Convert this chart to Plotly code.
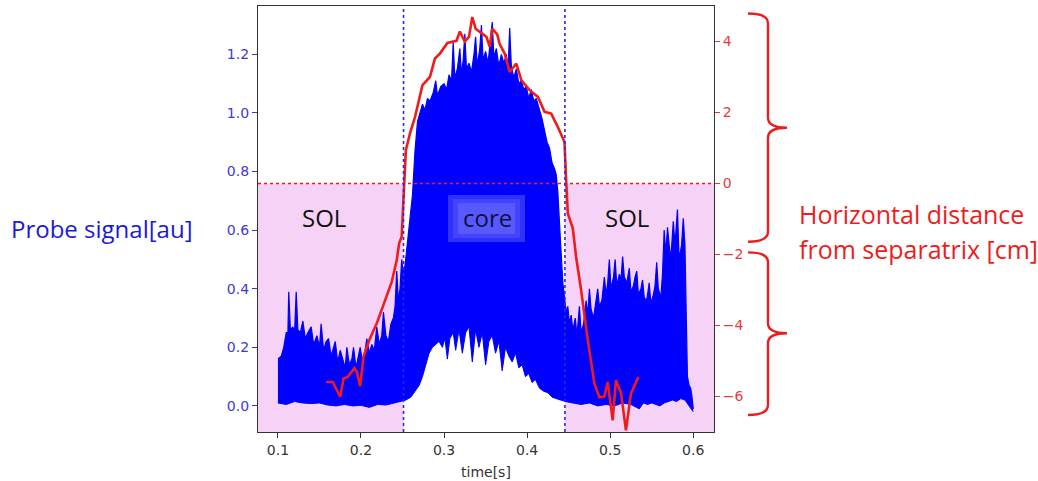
import plotly.graph_objects as go

# ---- data ----
t_upper = [0.100,0.104,0.107,0.110,0.112,0.113,0.115,0.118,0.120,0.122,0.124,0.127,0.130,0.133,0.136,0.140,0.143,0.147,0.150,0.152,
           0.155,0.158,0.161,0.164,0.167,0.169,0.172,0.175,0.178,0.181,0.183,0.186,0.189,0.191,0.194,0.197,0.199,0.202,0.205,0.207,
           0.210,0.213,0.216,0.219,0.222,0.225,0.227,0.230,0.233,0.236,0.239,0.241,0.243,0.245,0.247,0.249,0.251,0.253,0.256,0.259,
           0.262,0.265,0.268,0.271,0.274,0.277,0.280,0.283,0.287,0.290,0.292,0.296,0.300,0.303,0.306,0.309,0.311,0.313,0.316,0.319,
           0.321,0.323,0.325,0.327,0.330,0.333,0.336,0.338,0.340,0.343,0.345,0.347,0.350,0.353,0.356,0.358,0.360,0.363,0.366,0.369,
           0.372,0.375,0.377,0.379,0.381,0.384,0.387,0.390,0.393,0.396,0.399,0.402,0.405,0.408,0.411,0.415,0.418,0.421,0.424,0.427,
           0.430,0.433,0.435,0.437,0.439,0.441,0.443,0.445,0.447,0.449,0.451,0.453,0.455,0.458,0.460,0.463,0.465,0.468,0.471,0.473,
           0.475,0.477,0.480,0.483,0.485,0.487,0.490,0.493,0.495,0.497,0.499,0.501,0.504,0.506,0.508,0.511,0.513,0.515,0.517,0.520,
           0.523,0.525,0.528,0.530,0.532,0.534,0.537,0.539,0.541,0.544,0.547,0.549,0.552,0.554,0.556,0.558,0.561,0.563,0.565,0.567,
           0.569,0.571,0.573,0.576,0.578,0.581,0.583,0.586,0.588,0.590,0.592,0.593,0.595,0.597,0.599,0.600]
sig_upper = [0.16,0.17,0.20,0.25,0.25,0.39,0.26,0.27,0.25,0.39,0.26,0.25,0.29,0.23,0.25,0.27,0.21,0.24,0.20,0.28,
             0.19,0.22,0.23,0.17,0.20,0.22,0.15,0.19,0.16,0.13,0.20,0.14,0.16,0.20,0.13,0.18,0.20,0.15,0.19,0.23,
             0.18,0.21,0.19,0.27,0.21,0.24,0.32,0.24,0.22,0.28,0.30,0.34,0.46,0.36,0.40,0.50,0.45,0.48,0.55,0.64,
             0.72,0.87,0.97,1.00,1.03,1.01,1.05,1.04,1.07,1.11,1.06,1.09,1.10,1.08,1.13,1.11,1.24,1.12,1.15,1.22,
             1.13,1.18,1.27,1.15,1.17,1.14,1.20,1.26,1.16,1.22,1.30,1.18,1.21,1.17,1.25,1.31,1.19,1.22,1.16,1.20,
             1.17,1.20,1.14,1.29,1.16,1.12,1.15,1.10,1.11,1.08,1.09,1.05,1.08,1.04,1.05,1.01,0.98,0.94,0.90,0.88,
             0.83,0.81,0.79,0.73,0.60,0.52,0.42,0.36,0.32,0.34,0.28,0.31,0.26,0.30,0.24,0.34,0.25,0.28,0.36,0.31,
             0.40,0.33,0.30,0.36,0.40,0.34,0.36,0.44,0.38,0.42,0.50,0.40,0.44,0.50,0.41,0.45,0.43,0.51,0.44,0.42,
             0.47,0.39,0.41,0.44,0.46,0.38,0.40,0.43,0.37,0.36,0.42,0.35,0.38,0.41,0.49,0.40,0.37,0.45,0.60,0.52,
             0.61,0.55,0.50,0.63,0.55,0.67,0.50,0.55,0.64,0.55,0.30,0.10,0.07,0.06,0.02,-0.01]

t_lower = [0.100,0.110,0.120,0.130,0.140,0.150,0.160,0.170,0.180,0.190,0.200,0.210,0.220,0.230,0.240,0.248,0.254,0.260,0.265,0.270,
           0.274,0.278,0.282,0.286,0.290,0.294,0.298,0.301,0.304,0.307,0.311,0.314,0.318,0.322,0.326,0.330,0.334,0.338,0.342,0.346,
           0.350,0.354,0.358,0.362,0.366,0.370,0.374,0.378,0.382,0.386,0.390,0.394,0.398,0.402,0.406,0.410,0.415,0.420,0.425,0.430,
           0.435,0.440,0.446,0.455,0.465,0.475,0.485,0.495,0.505,0.515,0.525,0.535,0.540,0.545,0.550,0.555,0.560,0.565,0.570,0.575,
           0.580,0.585,0.590,0.595,0.600]
sig_lower = [0.010,0.005,0.015,0.010,0.008,0.010,0.003,0.000,0.005,0.000,0.002,-0.005,0.005,0.003,0.010,0.015,0.020,0.030,0.050,0.070,
             0.100,0.140,0.180,0.200,0.210,0.220,0.200,0.230,0.160,0.230,0.250,0.190,0.260,0.180,0.250,0.270,0.150,0.260,0.200,0.250,
             0.140,0.220,0.240,0.180,0.220,0.120,0.200,0.170,0.150,0.180,0.130,0.140,0.100,0.110,0.080,0.090,0.060,0.050,0.045,0.030,
             0.025,0.020,0.015,0.010,0.005,0.010,0.000,0.005,0.000,0.010,0.005,-0.010,0.010,0.005,0.010,0.005,0.000,0.010,0.015,0.020,
             0.015,0.025,0.020,0.000,-0.020]

t_dist = [0.158,0.166,0.175,0.179,0.184,0.192,0.195,0.199,0.203,0.210,0.219,0.229,0.237,0.243,0.246,0.249,0.251,0.253,0.254,0.259,
          0.265,0.274,0.283,0.289,0.295,0.304,0.315,0.319,0.325,0.330,0.334,0.338,0.343,0.351,0.355,0.358,0.364,0.367,0.373,0.379,
          0.387,0.393,0.403,0.413,0.421,0.429,0.437,0.445,0.447,0.449,0.455,0.459,0.465,0.473,0.481,0.487,0.493,0.497,0.503,0.507,
          0.513,0.519,0.525,0.534]
dist_cm = [-5.59,-5.59,-6.01,-5.49,-5.45,-5.20,-5.30,-5.71,-4.88,-4.41,-3.94,-3.29,-2.77,-2.16,-1.68,-1.50,-0.56,0.40,0.94,1.41,
           1.87,2.77,3.00,3.52,3.66,3.96,4.02,4.28,4.00,4.13,4.69,4.36,4.27,4.13,3.85,4.36,4.20,3.93,3.66,3.14,
           3.38,2.91,2.63,2.44,2.02,1.97,1.59,1.17,0.10,-0.84,-1.26,-2.07,-3.00,-4.40,-5.63,-6.02,-6.00,-5.59,-6.67,-5.54,
           -5.90,-6.95,-5.92,-5.45]

core_bounds = [0.2512, 0.4455]
x_ticks = [0.1, 0.2, 0.3, 0.4, 0.5, 0.6]
y_ticks = [0.0, 0.2, 0.4, 0.6, 0.8, 1.0, 1.2]
y2_ticks = [-6, -4, -2, 0, 2, 4]
x_range = [0.076, 0.625]
y_range = [-0.089, 1.365]
y2_range = [-7.0, 5.0]

BLUE = "#0000ff"
RED = "#ee1c1c"
PINK = "#f7d2f7"
TICK_BLUE = "#3a3ad8"
TICK_RED = "#e83a3a"
FONT = "DejaVu Sans"
LABEL_FONT = "Open Sans"

fig = go.Figure()

# probe signal band (between lower and upper envelope)
fig.add_trace(go.Scatter(x=t_lower, y=sig_lower, mode="lines",
                         line=dict(color=BLUE, width=1), showlegend=False, hoverinfo="skip"))
fig.add_trace(go.Scatter(x=t_upper, y=sig_upper, mode="lines", fill="tonexty",
                         fillcolor=BLUE, line=dict(color=BLUE, width=1.2),
                         showlegend=False, hoverinfo="skip"))

# distance from separatrix (right axis)
fig.add_trace(go.Scatter(x=t_dist, y=dist_cm, mode="lines", yaxis="y2",
                         line=dict(color=RED, width=2.6), showlegend=False, hoverinfo="skip"))


def px(xp):
    return (xp - 258) / 456


def py(yp):
    return (432 - yp) / 426


shapes = []
# pink SOL shading (below separatrix line, outside core)
shapes.append(dict(type="rect", xref="x", yref="y2", x0=x_range[0], x1=core_bounds[0],
                   y0=y2_range[0], y1=0, fillcolor=PINK, line=dict(width=0), layer="below"))
shapes.append(dict(type="rect", xref="x", yref="y2", x0=core_bounds[1], x1=x_range[1],
                   y0=y2_range[0], y1=0, fillcolor=PINK, line=dict(width=0), layer="below"))
# separatrix dotted line
shapes.append(dict(type="line", xref="paper", yref="y2", x0=0, x1=1, y0=0, y1=0,
                   line=dict(color=RED, width=1.6, dash="dot")))
# core boundaries
for xb in core_bounds:
    shapes.append(dict(type="line", xref="x", yref="paper", x0=xb, x1=xb, y0=0, y1=1,
                       line=dict(color="#2a2ae0", width=1.6, dash="dot")))

# glow box behind "core" label
for (x0, x1, y0, y1, col) in [(448, 525, 195, 242, "#3030ff"),
                              (453, 520, 199, 238, "#4444ff"),
                              (458, 515, 203, 234, "#5858ff")]:
    shapes.append(dict(type="rect", xref="paper", yref="paper", x0=px(x0), x1=px(x1),
                       y0=py(y1), y1=py(y0), fillcolor=col, line=dict(width=0)))


def brace(top, mid, bot, x0=1.0746, x1=1.1184, x2=1.160, d=0.28):
    return (f"M {x0},{top} Q {x1},{top} {x1},{top-d} "
            f"L {x1},{mid+d} Q {x1},{mid} {x2},{mid} "
            f"Q {x1},{mid} {x1},{mid-d} "
            f"L {x1},{bot+d} Q {x1},{bot} {x0},{bot}")


shapes.append(dict(type="path", xref="paper", yref="y2", path=brace(4.79, 1.57, -1.64),
                   line=dict(color=RED, width=2.4)))
shapes.append(dict(type="path", xref="paper", yref="y2", path=brace(-1.94, -4.22, -6.52),
                   line=dict(color=RED, width=2.4)))

annotations = [
    dict(text="core", x=px(487), y=py(218), xref="paper", yref="paper", xanchor="center", yanchor="middle",
         showarrow=False, font=dict(family=LABEL_FONT, size=24, color="#101040")),
    dict(text="SOL", x=px(324), y=py(218), xref="paper", yref="paper", xanchor="center", yanchor="middle",
         showarrow=False, font=dict(family=LABEL_FONT, size=24, color="#111111")),
    dict(text="SOL", x=px(627), y=py(218), xref="paper", yref="paper", xanchor="center", yanchor="middle",
         showarrow=False, font=dict(family=LABEL_FONT, size=24, color="#111111")),
    dict(text="Probe signal[au]", x=px(9), y=py(228), xref="paper", yref="paper",
         xanchor="left", yanchor="middle", showarrow=False,
         font=dict(family=LABEL_FONT, size=24, color="#1a1ad6")),
    dict(text="Horizontal distance", x=px(797), y=py(214), xref="paper", yref="paper",
         xanchor="left", yanchor="middle", showarrow=False, font=dict(family=LABEL_FONT, size=25, color=RED)),
    dict(text="from separatrix [cm]", x=px(797), y=py(249), xref="paper", yref="paper",
         xanchor="left", yanchor="middle", showarrow=False, font=dict(family=LABEL_FONT, size=25, color=RED)),
    dict(text="time[s]", x=0.5, y=py(472), xref="paper", yref="paper", xanchor="center", yanchor="middle",
         showarrow=False, font=dict(family=FONT, size=14, color="#333333")),
]

fig.update_layout(
    width=1038, height=481,
    margin=dict(l=258, r=324, t=6, b=49),
    paper_bgcolor="white", plot_bgcolor="white",
    showlegend=False,
    shapes=shapes, annotations=annotations,
    xaxis=dict(range=x_range, tickvals=x_ticks, ticktext=[f"{v:.1f}" for v in x_ticks],
               showgrid=False, zeroline=False, showline=True, linecolor="#333333", linewidth=1.3,
               mirror=True, ticks="outside", ticklen=5, tickcolor="#333333",
               tickfont=dict(family=FONT, size=14, color="#333333")),
    yaxis=dict(range=y_range, tickvals=y_ticks, ticktext=[f"{v:.1f}" for v in y_ticks],
               showgrid=False, zeroline=False, showline=True, linecolor="#333333", linewidth=1.3,
               mirror=True, ticks="outside", ticklen=5, tickcolor=TICK_BLUE,
               tickfont=dict(family=FONT, size=14, color=TICK_BLUE)),
    yaxis2=dict(range=y2_range, tickvals=y2_ticks, overlaying="y", side="right",
                showgrid=False, zeroline=False, showline=False,
                ticks="outside", ticklen=5, tickcolor=TICK_RED,
                tickfont=dict(family=FONT, size=14, color=TICK_RED)),
)

fig.write_html("out.html")
